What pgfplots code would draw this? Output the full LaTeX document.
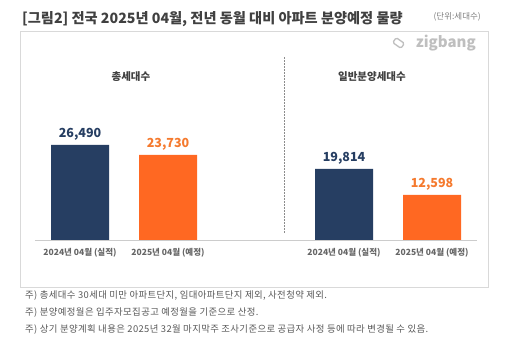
\documentclass[border=0pt]{standalone}
\usepackage{pgfplots}
\pgfplotsset{compat=1.18}
\usepackage{fontspec}
\setmainfont{Noto Sans CJK KR}
\newfontfamily\notefont[LetterSpace=4]{Noto Sans CJK KR}
\definecolor{navy}{HTML}{263E62}
\definecolor{orng}{HTML}{FF6822}
\definecolor{orngtxt}{HTML}{F57A2E}
\definecolor{txt}{HTML}{404040}
\definecolor{frame}{HTML}{D9D9D9}
\begin{document}
\begin{tikzpicture}
\begin{axis}[
  scale only axis, width=510pt, height=361pt,
  xmin=-0.90909, xmax=4.88636, ymin=-33740, ymax=66922,
  axis lines=none,
  ybar, bar width=58pt, bar shift=0pt,
  clip=false,
  nodes near coords,
  /pgf/number format/fixed,
  /pgf/number format/1000 sep={,},
  /pgf/number format/assume math mode=true,
  nodes near coords style={font=\bfseries\fontsize{12.5}{14}\selectfont, inner sep=4pt},
]
\path[fill=white] (rel axis cs:0,0) rectangle (rel axis cs:1,1);
% frame
\draw[frame, line width=0.8pt] (axis cs:-0.6818,58277) rectangle (axis cs:4.6364,-13105);
\addplot[fill=navy, draw=none, nodes near coords style={text=navy}] coordinates {(0,26490) (3,19814)};
\addplot[fill=orng, draw=none, nodes near coords style={text=orngtxt}] coordinates {(1,23730) (4,12598)};
\draw[black!20, line width=0.8pt] (axis cs:-0.5114,0) -- (axis cs:4.5114,0);
\draw[black!45, dash pattern=on 1.5pt off 1.5pt, line width=0.5pt] (axis cs:2.32,1952) -- (axis cs:2.32,51028);
% title and unit
\node[anchor=west, inner sep=0, font=\bfseries\fontsize{14.2}{16}\selectfont, text=txt] at (axis cs:-0.6591,61624) {[그림2] 전국 2025년 04월, 전년 동월 대비 아파트 분양예정 물량};
\node[anchor=east, inner sep=0, font=\fontsize{8.5}{10}\selectfont, text=gray] at (axis cs:4.5568,62181) {(단위:세대수)};
% logo
\node[anchor=east, inner sep=0, font=\bfseries\fontsize{15}{16}\selectfont, text=black!25] at (axis cs:4.5,54931) {zigbang};
\node[draw=black!25, line width=1.3pt, rounded corners=1.5pt, minimum width=10pt, minimum height=6pt, inner sep=0, rotate=-35] at (axis cs:3.62,54931) {};
% tick labels
\node[font=\bfseries\fontsize{8.5}{10}\selectfont, text=black!60] at (axis cs:0,-3625) {2024년 04월 (실적)};
\node[font=\bfseries\fontsize{8.5}{10}\selectfont, text=black!60] at (axis cs:1,-3625) {2025년 04월 (예정)};
\node[font=\bfseries\fontsize{8.5}{10}\selectfont, text=black!60] at (axis cs:3,-3625) {2024년 04월 (실적)};
\node[font=\bfseries\fontsize{8.5}{10}\selectfont, text=black!60] at (axis cs:4,-3625) {2025년 04월 (예정)};
% panel titles
\node[font=\bfseries\fontsize{10.5}{12}\selectfont, text=txt] at (axis cs:0.5795,45451) {총세대수};
\node[font=\bfseries\fontsize{10.5}{12}\selectfont, text=txt] at (axis cs:3.318,45451) {일반분양세대수};
% footnotes
\node[anchor=west, inner sep=0, font=\notefont\fontsize{9.4}{11}\selectfont, text=black!65] at (axis cs:-0.625,-15615) {주) 총세대수 30세대 미만 아파트단지, 임대아파트단지 제외, 사전청약 제외.};
\node[anchor=west, inner sep=0, font=\notefont\fontsize{9.4}{11}\selectfont, text=black!65] at (axis cs:-0.625,-20355) {주) 분양예정월은 입주자모집공고 예정월을 기준으로 산정.};
\node[anchor=west, inner sep=0, font=\notefont\fontsize{9.4}{11}\selectfont, text=black!65] at (axis cs:-0.625,-25096) {주) 상기 분양계획 내용은 2025년 32월 마지막주 조사기준으로 공급자 사정 등에 따라 변경될 수 있음.};
\end{axis}
\end{tikzpicture}
\end{document}
